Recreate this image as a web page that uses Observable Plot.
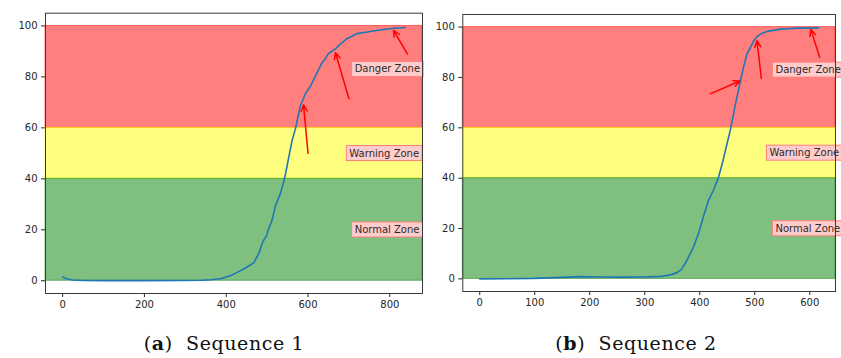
<!DOCTYPE html>
<html>
<head>
<meta charset="utf-8">
<script src="https://cdn.jsdelivr.net/npm/d3@7"></script>
<script src="https://cdn.jsdelivr.net/npm/@observablehq/plot@0.6"></script>
<style>
  html, body { margin: 0; padding: 0; background: #fff; }
  #root { position: relative; width: 841px; height: 358px; overflow: hidden; }
  .panel { position: absolute; top: 0; }
  .caption { position: absolute; top: 332px; font-family: "DejaVu Serif", "Liberation Serif", serif; font-size: 19px; letter-spacing: 0.6px; color: #111; white-space: nowrap; transform: translateX(-50%); }
  .caption b { font-weight: bold; }
</style>
</head>
<body>
<div id="root"></div>
<script>
// ---- data ----
const seq1X = [0, 10, 25, 50, 100, 200, 300, 340, 362, 385, 394, 410, 427, 445, 467, 479, 490, 498, 504, 512, 520, 532, 540, 545, 553, 561, 569, 581, 593, 606, 622, 634, 641, 650, 667, 680, 695, 720, 752, 785, 810, 838];
const seq1Y = [1.5, 0.8, 0.3, 0.1, 0.05, 0.05, 0.1, 0.2, 0.4, 0.8, 1.2, 2.0, 3.3, 4.8, 7.0, 10.5, 15.5, 17.5, 20.5, 23.7, 29.3, 34.0, 38.5, 42.0, 48.5, 55.0, 59.5, 68.5, 73.2, 76.4, 81.6, 85.5, 86.8, 89.2, 91.0, 93.0, 95.0, 97.0, 97.8, 98.6, 99.1, 99.4];

const seq2X = [0, 50, 100, 150, 183, 220, 260, 304, 330, 344, 358, 366, 374, 381, 389, 398, 407, 416, 425, 434, 441, 447, 456, 465, 474, 480, 486, 492, 498, 504, 512, 523, 547, 577, 616];
const seq2Y = [0, 0.05, 0.2, 0.6, 0.9, 0.75, 0.7, 0.8, 1.0, 1.5, 2.4, 3.6, 6.3, 9.3, 12.9, 18.2, 25.0, 31.2, 35.3, 40.3, 45.8, 51.3, 59.5, 69.5, 78.6, 84.5, 89.5, 91.8, 94.5, 96.2, 97.4, 98.3, 99.2, 99.6, 99.7];

// zones
const zoneNames = ["Danger Zone", "Warning Zone", "Normal Zone"];
const zoneLow = [60, 40, 0];
const zoneHigh = [100, 60, 40];
const zoneColors = ["red", "yellow", "green"];
const zoneLabelY = [83, 50, 20];

// label x positions (data units) for each panel
const seq1LabelX = [714, 701, 714];
const seq2LabelX = [537.6, 526.7, 537.6];

// arrows: tail -> head
const seq1ArrowX1 = [600, 700, 843];
const seq1ArrowY1 = [50, 71.5, 89];
const seq1ArrowX2 = [589, 667, 809];
const seq1ArrowY2 = [69, 89.5, 98.3];

const seq2ArrowX1 = [419, 512, 618];
const seq2ArrowY1 = [73.5, 79.6, 88];
const seq2ArrowX2 = [473, 504, 602];
const seq2ArrowY2 = [78.6, 94.6, 99];

const seq1Ticks = [0, 200, 400, 600, 800];
const seq2Ticks = [0, 100, 200, 300, 400, 500, 600];
const yTicks = [0, 20, 40, 60, 80, 100];

const captions = [["a", "Sequence 1"], ["b", "Sequence 2"]];

// ---- build ----
function panel(opts) {
  const {xs, ys, labelX, ax1, ay1, ax2, ay2, xTicks, xDomain, width, height, margins} = opts;
  const line = xs.map((x, i) => ({x, y: ys[i]}));
  const zones = zoneNames.map((name, i) => ({name, lo: zoneLow[i], hi: zoneHigh[i], color: zoneColors[i]}));
  const labels = zoneNames.map((name, i) => ({name, x: labelX[i], y: zoneLabelY[i]}));
  const arrows = ax1.map((x1, i) => ({x1, y1: ay1[i], x2: ax2[i], y2: ay2[i]}));
  return Plot.plot({
    width, height,
    marginLeft: margins[0], marginRight: margins[1], marginTop: margins[2], marginBottom: margins[3],
    style: {fontFamily: "DejaVu Sans", fontSize: "10px", color: "#262626", background: "transparent", overflow: "visible"},
    x: {domain: xDomain, ticks: xTicks, tickFormat: d => String(d), tickSize: 4, tickPadding: 3, label: null},
    y: {domain: [-5, 105], ticks: yTicks, tickFormat: d => String(d), tickSize: 4, tickPadding: 4, label: null},
    marks: [
      Plot.rect(zones, {x1: xDomain[0], x2: xDomain[1], y1: "lo", y2: "hi", fill: d => d.color, fillOpacity: 0.5, stroke: d => d.color, strokeOpacity: 0.5, strokeWidth: 1}),
      Plot.line(line, {x: "x", y: "y", stroke: "#1f77b4", strokeWidth: 1.6}),
      Plot.arrow(arrows, {x1: "x1", y1: "y1", x2: "x2", y2: "y2", stroke: "red", strokeWidth: 1.5, headLength: 7, headAngle: 50}),
      Plot.text(labels, {x: "x", y: "y", text: "name", textAnchor: "start", fill: "#2a2a2a", fontSize: 10, fontFamily: "DejaVu Sans"}),
      Plot.frame({stroke: "#3a3a3a", strokeWidth: 1})
    ]
  });
}

const root = document.getElementById("root");

const pa = panel({
  xs: seq1X, ys: seq1Y, labelX: seq1LabelX,
  ax1: seq1ArrowX1, ay1: seq1ArrowY1, ax2: seq1ArrowX2, ay2: seq1ArrowY2,
  xTicks: seq1Ticks, xDomain: [-41.9, 879.9],
  width: 430, height: 313, margins: [45, 8, 12.7, 20]
});
const da = document.createElement("div");
da.className = "panel"; da.style.left = "0px";
da.appendChild(pa); root.appendChild(da);

const pb = panel({
  xs: seq2X, ys: seq2Y, labelX: seq2LabelX,
  ax1: seq2ArrowX1, ay1: seq2ArrowY1, ax2: seq2ArrowX2, ay2: seq2ArrowY2,
  xTicks: seq2Ticks, xDomain: [-30.8, 646.8],
  width: 421, height: 311, margins: [42.3, 6, 14, 20]
});
const db = document.createElement("div");
db.className = "panel"; db.style.left = "420px";
db.appendChild(pb); root.appendChild(db);

// label boxes (bbox around text, like matplotlib bbox)
for (const svg of [pa, pb]) {
  svg.querySelectorAll('g[aria-label="text"] text').forEach(t => {
    const bb = t.getBBox();
    const padX = 3, padY = 2;
    const r = document.createElementNS("http://www.w3.org/2000/svg", "rect");
    r.setAttribute("x", bb.x - padX);
    r.setAttribute("y", bb.y - padY);
    r.setAttribute("width", bb.width + 2 * padX);
    r.setAttribute("height", bb.height + 2 * padY);
    r.setAttribute("fill", "#ffcccc");
    r.setAttribute("stroke", "#ff8080");
    r.setAttribute("stroke-width", "1");
    const tr = t.getAttribute("transform");
    if (tr) r.setAttribute("transform", tr);
    t.parentNode.insertBefore(r, t);
  });
}

// captions
const capCenters = [224, 636];
captions.forEach(([letter, text], i) => {
  const c = document.createElement("div");
  c.className = "caption";
  c.style.left = capCenters[i] + "px";
  c.innerHTML = "(<b>" + letter + "</b>)&nbsp;&nbsp;" + text;
  root.appendChild(c);
});
</script>
</body>
</html>
